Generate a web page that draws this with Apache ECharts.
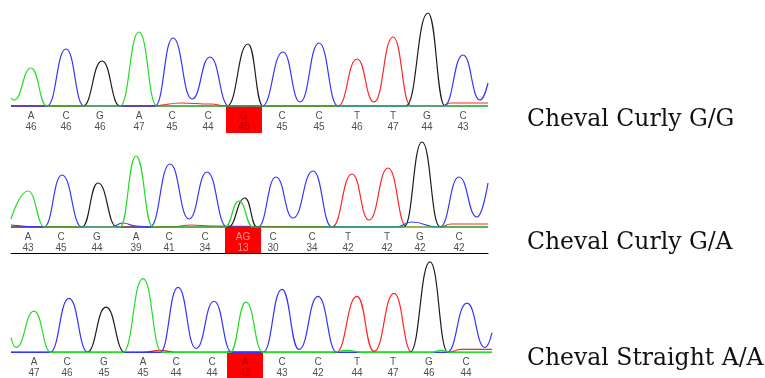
<!DOCTYPE html>
<html>
<head>
<meta charset="utf-8">
<script src="https://cdn.jsdelivr.net/npm/echarts@6/dist/echarts.min.js"></script>
<style>
  html, body { margin: 0; padding: 0; background: #fff; }
  #chart { width: 765px; height: 378px; }
</style>
</head>
<body>
<div id="chart"></div>
<script>
// sample names (right-hand labels)
const sampleNames = ['Cheval Curly G/G', 'Cheval Curly G/A', 'Cheval Straight A/A'];

// base calls and quality values per sample
const calls1 = ['A', 'C', 'G', 'A', 'C', 'C', 'G', 'C', 'C', 'T', 'T', 'G', 'C'];
const quals1 = [46, 46, 46, 47, 45, 44, 45, 45, 45, 46, 47, 44, 43];
const pos1 = [20, 55, 89, 128, 161, 197, 233, 271, 308, 346, 382, 416, 452];

const calls2 = ['A', 'C', 'G', 'A', 'C', 'C', 'AG', 'C', 'C', 'T', 'T', 'G', 'C'];
const quals2 = [43, 45, 44, 39, 41, 34, 13, 30, 34, 42, 42, 42, 42];
const pos2 = [17, 50, 86, 125, 158, 194, 232, 262, 301, 337, 376, 409, 448];

const calls3 = ['A', 'C', 'G', 'A', 'C', 'C', 'A', 'C', 'C', 'T', 'T', 'G', 'C'];
const quals3 = [47, 46, 45, 45, 44, 44, 43, 43, 42, 44, 47, 46, 44];
const pos3 = [23, 56, 93, 132, 165, 201, 234, 271, 307, 346, 382, 418, 455];

// the SNP position highlighted in each trace
const snpIndex = 6;

// trace signal, [scan, intensity]
const s1A = [[0, 8], [3, 6], [20, 38], [36, 0], [109, 0], [128, 74], [146, 0], [477, 0]];
const s1C = [[0, 0], [36, 0], [55, 57], [73, 0], [144, 0], [162, 68], [181, 7], [199, 49], [218, 0],
             [251, 0], [272, 54], [289, 4], [308, 63], [327, 0], [433, 0], [452, 51], [469, 6], [477, 23]];
const s1G = [[0, 0], [72, 0], [91, 45], [109, 0], [216, 0], [237, 62], [252, 0], [395, 0], [417, 93], [434, 0], [477, 0]];
const s1T = [[0, 0], [140, 0], [170, 3], [200, 2], [215, 0], [327, 0], [346, 47], [363, 4], [382, 69], [400, 0],
             [430, 0], [440, 3], [477, 3]];

const s2A = [[0, 8], [17, 36], [34, 0], [109, 0], [125, 71], [142, 0], [214, 0], [228, 26], [242, 0], [477, 0]];
const s2C = [[0, 2], [33, 0], [51, 52], [71, 0], [100, 0], [112, 4], [125, 1], [139, 0], [159, 63], [178, 8], [196, 55], [216, 0],
             [247, 0], [265, 50], [282, 9], [302, 56], [321, 0], [385, 0], [401, 5], [426, 0], [429, 0],
             [448, 50], [466, 10], [477, 44]];
const s2G = [[0, 0], [71, 0], [87, 44], [106, 0], [217, 0], [234, 29], [246, 0], [393, 0], [411, 85], [429, 0], [477, 0]];
const s2T = [[0, 0], [160, 0], [180, 2], [200, 1], [321, 0], [341, 53], [358, 7], [377, 59], [396, 0],
             [429, 0], [440, 3], [477, 3]];

const s3A = [[0, 15], [5, 5], [23, 42], [40, 0], [112, 0], [132, 75], [151, 0], [219, 0], [235, 51], [252, 0],
             [320, 0], [336, 2], [352, 0], [420, 0], [430, 2], [440, 0], [481, 0]];
const s3C = [[0, 0], [39, 0], [58, 55], [77, 0], [149, 0], [167, 66], [185, 4], [203, 52], [221, 0],
             [252, 0], [271, 64], [288, 3], [307, 57], [326, 0], [436, 0], [456, 50], [474, 5], [481, 20]];
const s3G = [[0, 0], [76, 0], [95, 46], [114, 0], [399, 0], [419, 92], [437, 0], [481, 0]];
const s3T = [[0, 0], [130, 0], [150, 2], [165, 0], [325, 0], [346, 57], [363, 1], [383, 60], [401, 0],
             [437, 0], [450, 3], [481, 3]];

const dyeColors = { A: '#22dd22', C: '#3333ff', G: '#1c1c1c', T: '#ff2424' };

const panels = [
    { top: 6, width: 477, min: -27, xmax: 477, line: false, calls: calls1, quals: quals1, pos: pos1,
      traces: { A: s1A, C: s1C, G: s1G, T: s1T }, snpText: '#9a0000', name: sampleNames[0], nameY: 122 },
    { top: 127, width: 477, min: -26, xmax: 477, line: true, calls: calls2, quals: quals2, pos: pos2,
      traces: { A: s2A, C: s2C, G: s2G, T: s2T }, snpText: '#ffb0b0', name: sampleNames[1], nameY: 245 },
    { top: 254, width: 481, min: -26, xmax: 481, line: false, calls: calls3, quals: quals3, pos: pos3,
      traces: { A: s3A, C: s3C, G: s3G, T: s3T }, snpText: '#9a0000', name: sampleNames[2], nameY: 361 }
];

let grids = [], xAxes = [], yAxes = [], series = [], graphics = [];

panels.forEach(function (p, i) {
    grids.push({ left: 11, top: p.top, width: p.width, height: 100 - p.min });
    xAxes.push({
        type: 'value', gridIndex: i, min: 0, max: p.xmax,
        axisLine: { show: p.line, onZero: false, lineStyle: { color: '#000', width: 1 } },
        axisTick: { show: false }, axisLabel: { show: false }, splitLine: { show: false }
    });
    yAxes.push({ type: 'value', gridIndex: i, min: p.min, max: 100, show: false });

    // red box behind the SNP call
    let c = p.pos[snpIndex];
    series.push({
        type: 'line', xAxisIndex: i, yAxisIndex: i, data: [], z: 1, silent: true,
        markArea: {
            silent: true,
            itemStyle: { color: '#ff0000', opacity: 1 },
            data: [[{ coord: [c - 18, 1] }, { coord: [c + 18, p.min] }]]
        }
    });

    ['T', 'G', 'C', 'A'].forEach(function (b) {
        series.push({
            type: 'line', xAxisIndex: i, yAxisIndex: i, data: p.traces[b], z: 2,
            smooth: 0.5, smoothMonotone: 'x', showSymbol: false, silent: true,
            lineStyle: { color: dyeColors[b], width: 1.2 }
        });
    });

    let letters = p.calls.map(function (b, k) {
        return { value: [p.pos[k], -10], name: b, label: { color: k === snpIndex ? p.snpText : '#222' } };
    });
    let nums = p.quals.map(function (q, k) {
        return { value: [p.pos[k], -21], name: String(q), label: { color: k === snpIndex ? p.snpText : '#222' } };
    });
    [letters, nums].forEach(function (d) {
        series.push({
            type: 'scatter', xAxisIndex: i, yAxisIndex: i, data: d, symbolSize: 0, z: 3, silent: true,
            label: {
                show: true, position: 'inside', formatter: '{b}',
                fontFamily: 'Liberation Sans', fontSize: 10
            }
        });
    });

    graphics.push({
        type: 'text', left: 527, top: p.nameY - 14,
        style: { text: p.name, fontFamily: 'DejaVu Serif', fontSize: 23.5, fill: '#111' }
    });
});

let chart = echarts.init(document.getElementById('chart'));
chart.setOption({
    animation: false,
    backgroundColor: '#fff',
    grid: grids,
    xAxis: xAxes,
    yAxis: yAxes,
    series: series,
    graphic: graphics
});
</script>
</body>
</html>
